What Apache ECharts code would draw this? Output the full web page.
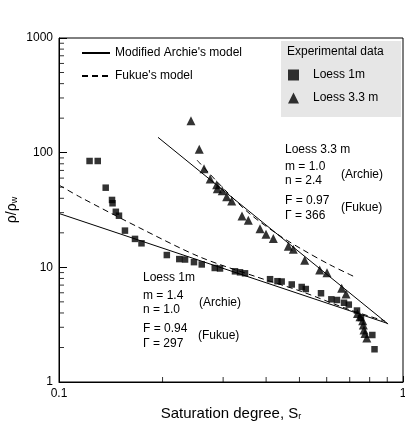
<!DOCTYPE html>
<html>
<head>
<meta charset="utf-8">
<script src="https://cdn.jsdelivr.net/npm/echarts@6/dist/echarts.min.js"></script>
<style>
  html, body { margin: 0; padding: 0; background: #fff; }
  #chart { width: 405px; height: 426px; }
</style>
</head>
<body>
<div id="chart"></div>
<script>
// Loess 1m measurements [Sr, rho/rho_w]
var loess1m = [
  [0.1227, 84.6], [0.1296, 84.6], [0.1367, 49.5], [0.1426, 38.7], [0.1431, 36.2],
  [0.1463, 30.5], [0.1494, 28.2], [0.1555, 20.9], [0.1663, 17.7], [0.1737, 16.2],
  [0.2058, 12.8], [0.2237, 11.8], [0.2325, 11.7], [0.2468, 11.1], [0.260, 10.6],
  [0.2836, 9.87], [0.2938, 9.77], [0.3248, 9.23], [0.3359, 9.05], [0.3473, 8.87],
  [0.4107, 7.88], [0.4316, 7.57], [0.4439, 7.52], [0.4749, 7.09], [0.5076, 6.74],
  [0.5217, 6.47], [0.5776, 5.94], [0.619, 5.26], [0.6428, 5.19], [0.6738, 4.91],
  [0.6957, 4.73], [0.7349, 4.20], [0.7548, 3.61], [0.8144, 2.57], [0.8264, 1.93]
];

// Loess 3.3 m measurements
var loess33m = [
  [0.2419, 190], [0.2557, 107], [0.2640, 72.5], [0.2751, 58.9], [0.2873, 52.6],
  [0.2885, 48.4], [0.2983, 46.5], [0.3072, 41.3], [0.3177, 37.9], [0.3404, 28.0],
  [0.3551, 25.7], [0.3840, 21.7], [0.3997, 19.4], [0.4198, 17.8], [0.4641, 15.3],
  [0.4798, 14.4], [0.5178, 11.5], [0.5726, 9.48], [0.6013, 8.98], [0.6635, 6.56],
  [0.6829, 5.85], [0.7373, 3.96], [0.7499, 3.71], [0.7635, 3.42], [0.7666, 3.14],
  [0.7702, 2.84], [0.7753, 2.65], [0.7848, 2.42]
];

// model curves
var archie1m = [[0.1, 29.5], [0.9, 3.25]];
var archie33m = [[0.194, 136], [0.905, 3.2]];
var fukue1m = [
  [0.1, 52.2], [0.115, 41.1], [0.172, 22.0], [0.257, 12.3],
  [0.376, 8.24], [0.502, 6.22], [0.702, 4.25], [0.886, 3.40]
];
var fukue33m = [
  [0.252, 86], [0.304, 47.2], [0.359, 29.2], [0.439, 18.8],
  [0.512, 14.2], [0.614, 10.5], [0.725, 8.24]
];

// minor tick positions
var xMinorTicks = [0.2, 0.3, 0.4, 0.5, 0.6, 0.7, 0.8, 0.9];
var yMinorTicks = [2, 3, 4, 5, 6, 7, 8, 9, 20, 30, 40, 50, 60, 70, 80, 90, 200, 300, 400, 500, 600, 700, 800, 900];

var FONT = '"Liberation Sans", Arial, Helvetica, sans-serif';

function note(text, x, y) {
  return {
    type: 'text',
    left: x,
    top: y - 7,
    style: { text: text, font: '12px ' + FONT, fill: '#000' }
  };
}

// minor ticks as thin rect symbols sitting on the axis, pushed inside the frame
function tickSeries(points, size, offset) {
  return {
    type: 'scatter',
    silent: true,
    clip: false,
    symbol: 'rect',
    symbolSize: size,
    symbolOffset: offset,
    itemStyle: { color: '#000' },
    z: 5,
    data: points
  };
}

var chart = echarts.init(document.getElementById('chart'));

var option = {
  animation: false,
  textStyle: { fontFamily: FONT },
  grid: {
    left: 59,
    top: 38,
    width: 344,
    height: 344,
    outerBoundsMode: 'none',
    containLabel: false,
    show: true,
    borderColor: '#000',
    borderWidth: 1
  },
  xAxis: {
    type: 'log',
    min: 0.1,
    max: 1,
    logBase: 10,
    name: '{a|Saturation degree, S}{b|r}',
    nameLocation: 'middle',
    nameGap: 21,
    nameMoveOverlap: false,
    nameTextStyle: {
      rich: {
        a: { fontSize: 15, color: '#000', fontFamily: FONT, verticalAlign: 'bottom', lineHeight: 18 },
        b: { fontSize: 9, color: '#000', fontFamily: FONT, verticalAlign: 'bottom', lineHeight: 14 }
      }
    },
    axisLine: { show: true, lineStyle: { color: '#000', width: 1 } },
    axisTick: { show: true, inside: true, length: 6, lineStyle: { color: '#000' } },
    axisLabel: { color: '#000', fontSize: 12, margin: 6 },
    splitLine: { show: false }
  },
  yAxis: {
    type: 'log',
    min: 1,
    max: 1000,
    logBase: 10,
    name: '{a|ρ/ρ}{b|w}',
    nameLocation: 'middle',
    nameGap: 40,
    nameMoveOverlap: false,
    nameRotate: 90,
    nameTextStyle: {
      rich: {
        a: { fontSize: 14, color: '#000', fontFamily: FONT, verticalAlign: 'bottom', lineHeight: 18 },
        b: { fontSize: 9, color: '#000', fontFamily: FONT, verticalAlign: 'bottom', lineHeight: 14 }
      }
    },
    axisLine: { show: true, lineStyle: { color: '#000', width: 1 } },
    axisTick: { show: true, inside: true, length: 8, lineStyle: { color: '#000' } },
    axisLabel: {
      color: '#000',
      fontSize: 12,
      margin: 6,
      formatter: function (v) { return String(v); }
    },
    splitLine: { show: false }
  },
  legend: [
    {
      orient: 'vertical',
      left: 81,
      top: 47,
      itemWidth: 28,
      itemHeight: 10,
      itemGap: 11,
      padding: 0,
      data: ["Modified Archie's model", "Fukue's model"],
      itemStyle: { opacity: 0 },
      textStyle: { color: '#000', fontSize: 12, fontFamily: FONT },
      selectedMode: false
    },
    {
      orient: 'vertical',
      left: 288,
      top: 69,
      itemWidth: 11,
      itemHeight: 11,
      itemGap: 11,
      padding: 0,
      data: ['Loess 1m', 'Loess 3.3 m'],
      textStyle: { color: '#000', fontSize: 12, fontFamily: FONT, padding: [0, 0, 0, 9] },
      selectedMode: false
    }
  ],
  graphic: [
    {
      type: 'rect',
      shape: { x: 281, y: 41, width: 120, height: 76 },
      style: { fill: '#e6e6e6' },
      z: -1
    },
    note('Experimental data', 287, 53),
    note('Loess 3.3 m', 285, 151),
    note('m = 1.0', 285, 168),
    note('n = 2.4', 285, 182),
    note('(Archie)', 341, 176),
    note('F = 0.97', 285, 202),
    note('\u0393 = 366', 285, 217),
    note('(Fukue)', 341, 209),
    note('Loess 1m', 143, 279),
    note('m = 1.4', 143, 297),
    note('n = 1.0', 143, 311),
    note('(Archie)', 199, 304),
    note('F = 0.94', 143, 330),
    note('\u0393 = 297', 143, 345),
    note('(Fukue)', 198, 337)
  ],
  series: [
    {
      name: 'Loess 1m',
      type: 'scatter',
      symbol: 'rect',
      symbolSize: 6.5,
      itemStyle: { color: '#000' },
      data: loess1m
    },
    {
      name: 'Loess 3.3 m',
      type: 'scatter',
      symbol: 'triangle',
      symbolSize: 9,
      itemStyle: { color: '#000' },
      data: loess33m
    },
    {
      name: "Modified Archie's model",
      type: 'line',
      symbol: 'none',
      lineStyle: { color: '#000', width: 1 },
      itemStyle: { color: '#000' },
      data: archie1m
    },
    {
      name: "Modified Archie's model",
      type: 'line',
      symbol: 'none',
      lineStyle: { color: '#000', width: 1 },
      itemStyle: { color: '#000' },
      data: archie33m
    },
    {
      name: "Fukue's model",
      type: 'line',
      symbol: 'none',
      smooth: 0.3,
      lineStyle: { color: '#000', width: 1, type: [6, 4] },
      itemStyle: { color: '#000' },
      data: fukue1m
    },
    {
      name: "Fukue's model",
      type: 'line',
      symbol: 'none',
      smooth: 0.3,
      lineStyle: { color: '#000', width: 1, type: [6, 4] },
      itemStyle: { color: '#000' },
      data: fukue33m
    },
    tickSeries(xMinorTicks.map(function (v) { return [v, 1]; }), [1, 5], [0, -2.5]),
    tickSeries(yMinorTicks.map(function (v) { return [0.1, v]; }), [5, 1], [2.5, 0])
  ]
};

chart.setOption(option);
</script>
</body>
</html>
